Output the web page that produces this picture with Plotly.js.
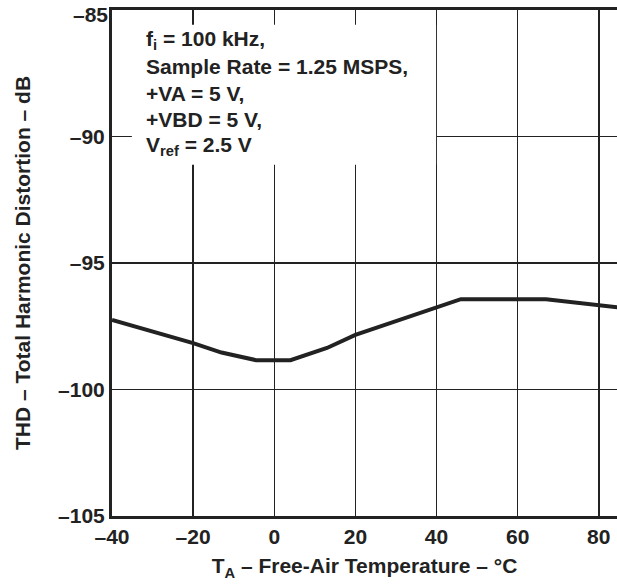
<!DOCTYPE html>
<html>
<head>
<meta charset="utf-8">
<script src="https://cdn.plot.ly/plotly-3.0.1.min.js"></script>
<style>html,body{margin:0;padding:0;background:#fff;}#chart{width:617px;height:584px;}</style>
</head>
<body>
<div id="chart"></div>
<script>
// Data
const tempC = [-40, -20, -13, -4.5, 4, 13, 20, 30, 40, 46, 67, 80, 85];
const thdDb = [-97.25, -98.17, -98.54, -98.84, -98.84, -98.36, -97.84, -97.3, -96.78, -96.43, -96.43, -96.65, -96.76];
const xTickVals = [-40, -20, 0, 20, 40, 60, 80];
const xTickText = ['\u201340', '\u201320', '0', '20', '40', '60', '80'];
const yTickVals = [-105, -100, -95, -90, -85];
const yTickText = ['\u2013105', '\u2013100', '\u201395', '\u201390', '\u201385'];
const noteLines = [
  'f<sub>i</sub> = 100 kHz,',
  'Sample Rate = 1.25 MSPS,',
  '+VA = 5 V,',
  '+VBD = 5 V,',
  'V<sub>ref</sub> = 2.5 V'
];

const FONT = 'Liberation Sans, Arial, Helvetica, sans-serif';
const INK = '#222';

const trace = {
  x: tempC, y: thdDb, type: 'scatter', mode: 'lines',
  line: {color: INK, width: 4}, hoverinfo: 'skip'
};

// annotation lines inside the white box (paper coords)
const plotTop = 10, plotH = 506, plotL = 112, plotW = 505;
const lineCentersPx = [40, 66.5, 93.5, 120, 146];
const annotations = noteLines.map((t, i) => ({
  xref: 'paper', yref: 'paper',
  x: (144 - plotL) / plotW,
  y: 1 - (lineCentersPx[i] - plotTop) / plotH,
  xanchor: 'left', yanchor: 'middle',
  text: '<b>' + t + '</b>', showarrow: false,
  font: {family: FONT, size: 21, color: INK}
}));

// the top y tick label sits slightly lower in the reference (so it is not clipped)
const lastIdx = yTickVals.length - 1;
const yTickShown = yTickText.map((t, i) => i === lastIdx ? '' : t);
annotations.push({
  xref: 'paper', yref: 'paper', x: 0, y: 1,
  xanchor: 'right', yanchor: 'top', xshift: -2, yshift: 9,
  text: '<b>' + yTickText[lastIdx] + '</b>', showarrow: false,
  font: {family: FONT, size: 21, color: INK}
});

const layout = {
  width: 617, height: 584,
  margin: {l: 112, r: 0, t: 10, b: 68},
  paper_bgcolor: '#fff', plot_bgcolor: '#fff',
  showlegend: false,
  font: {family: FONT, color: INK},
  xaxis: {
    range: [-40, 84.5], tickvals: xTickVals, ticktext: xTickText,
    showgrid: true, gridcolor: INK, gridwidth: 1.5,
    showline: true, linecolor: INK, linewidth: 3, mirror: true,
    ticks: '', zeroline: false, ticklabeloverflow: 'allow',
    tickfont: {family: FONT, size: 21, color: INK, weight: 'bold'},
    title: {text: '<b>T<sub>A</sub> \u2013 Free-Air Temperature \u2013 \u00b0C</b>',
            font: {family: FONT, size: 21, color: INK}, standoff: 12}
  },
  yaxis: {
    range: [-105, -85], tickvals: yTickVals, ticktext: yTickShown,
    showgrid: true, gridcolor: INK, gridwidth: 1.5,
    showline: true, linecolor: INK, linewidth: 3,
    ticks: '', zeroline: false, ticklabeloverflow: 'allow',
    tickfont: {family: FONT, size: 21, color: INK, weight: 'bold'},
    title: {text: '<b>THD \u2013 Total Harmonic Distortion \u2013 dB</b>',
            font: {family: FONT, size: 21, color: INK}, standoff: 22}
  },
  shapes: [{
    type: 'rect', xref: 'x', yref: 'y', layer: 'above',
    x0: -35.1, x1: 39.9, y0: -91.12, y1: -85.58,
    fillcolor: '#fff', line: {width: 0}
  }],
  annotations: annotations
};

Plotly.newPlot('chart', [trace], layout, {staticPlot: true, displayModeBar: false});
</script>
</body>
</html>
